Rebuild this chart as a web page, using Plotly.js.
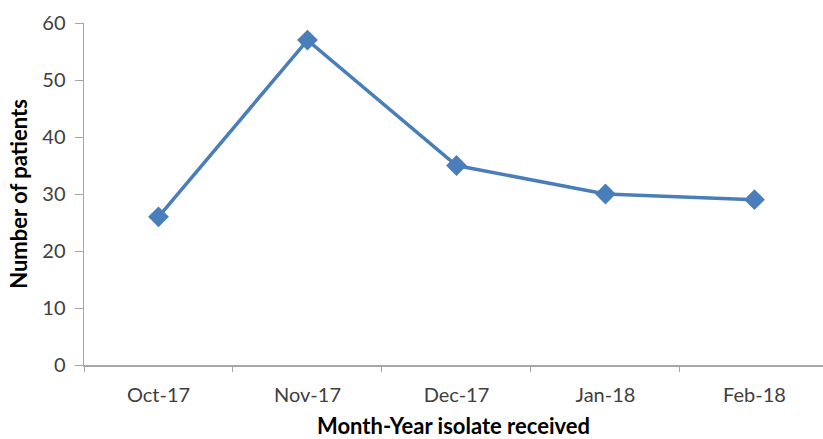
<!DOCTYPE html>
<html><head><meta charset="utf-8">
<script src="https://cdn.plot.ly/plotly-3.0.1.min.js"></script>
<style>html,body{margin:0;padding:0;background:#fff;}#chart{width:823px;height:439px;}</style>
</head><body><div id="chart"></div>
<script>
const months = ["Oct-17", "Nov-17", "Dec-17", "Jan-18", "Feb-18"];
const patients = [26, 57, 35, 30, 29];
const yTicks = [0, 10, 20, 30, 40, 50, 60];

const trace = {
  x: months, y: patients, type: "scatter", mode: "lines+markers",
  line: {color: "#4a7ebb", width: 3.5},
  marker: {symbol: "diamond", size: 16, color: "#4a7ebb"},
  cliponaxis: false
};
const layout = {
  width: 823, height: 439,
  margin: {l: 84, r: 0, t: 23, b: 74},
  paper_bgcolor: "#fff", plot_bgcolor: "#fff",
  font: {family: "Lato, 'Open Sans', sans-serif", color: "#404040", size: 20},
  showlegend: false,
  xaxis: {
    type: "category", range: [-0.5, 4.46],
    showline: true, linecolor: "#a6a6a6", linewidth: 1.5,
    ticks: "outside", tickson: "boundaries", ticklen: 5, tickcolor: "#a6a6a6",
    showgrid: false, zeroline: false,
    ticklabelstandoff: 11,
    tickfont: {size: 20, color: "#404040"},
    title: {text: "<b>Month-Year isolate received</b>", font: {size: 22, color: "#000"}, standoff: 16}
  },
  yaxis: {
    range: [0, 60], tickvals: yTicks,
    showline: true, linecolor: "#a6a6a6", linewidth: 1.5,
    ticks: "outside", ticklen: 8, tickcolor: "#a6a6a6",
    showgrid: false, zeroline: false,
    ticklabelstandoff: 5,
    tickfont: {size: 20, color: "#404040"},
    title: {text: "<b>Number of patients</b>", font: {size: 22, color: "#000"}, standoff: 8}
  }
};
Plotly.newPlot("chart", [trace], layout, {displayModeBar: false, staticPlot: true});
</script></body></html>
